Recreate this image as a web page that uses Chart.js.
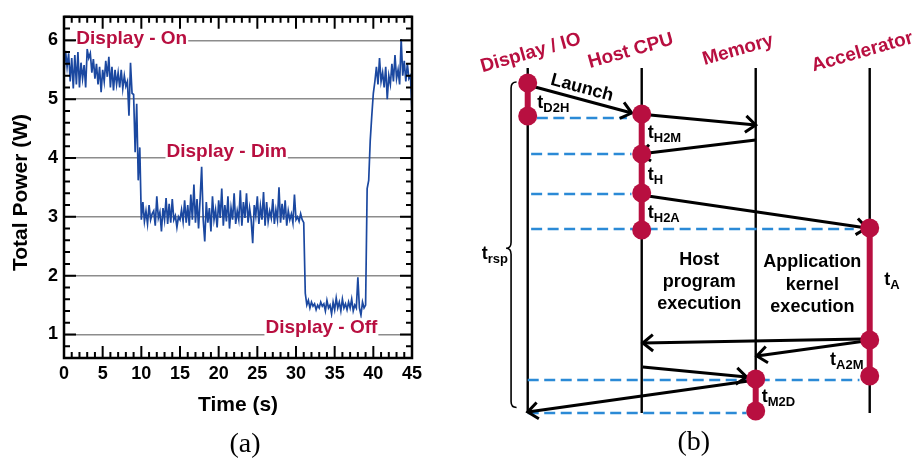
<!DOCTYPE html>
<html><head><meta charset="utf-8">
<script src="https://cdn.jsdelivr.net/npm/chart.js@4.4.1/dist/chart.umd.min.js"></script>
<style>
html,body{margin:0;padding:0;background:#fff;width:912px;height:461px;overflow:hidden}
#a{position:absolute;left:0;top:0}
#b{position:absolute;left:460px;top:0}
</style></head><body>
<canvas id="a" width="450" height="461"></canvas>
<canvas id="b" width="452" height="461"></canvas>
<script>
// ---------------- (a) data ----------------
const sampleInterval = 0.2; // seconds between samples
const powerW = [
  5.45,5.82,5.55,5.78,5.30,5.70,5.18,5.75,5.25,5.80, // 0-1.8
  5.20,5.62,5.35,5.58,5.20,5.85,5.70,5.78,5.45,5.68, // 2-3.8
  5.35,5.60,5.25,5.55,5.12,5.50,5.30,5.65,5.38,5.72, // 4-5.8
  5.20,5.55,5.15,5.50,5.25,5.45,5.20,5.50,5.18,5.40, // 6-7.8
  5.22,5.30,4.72,5.62,5.10,5.08,4.10,4.92,3.62,4.18, // 8-9.8
  2.95,3.25,2.92,3.10,2.88,3.20,2.95,3.05,3.10,2.85, // 10-11.8
  3.35,2.98,3.08,2.75,3.15,2.95,3.32,2.88,3.22,2.90, // 12-13.8
  3.30,2.95,3.02,2.82,3.00,2.95,3.12,2.92,3.28,2.90, // 14-15.8
  3.20,2.85,3.38,2.95,3.55,2.90,3.30,2.80,3.30,3.85, // 16-17.8
  2.95,2.58,3.25,2.90,3.15,2.75,3.35,2.95,3.12,2.82, // 18-19.8
  3.28,2.98,3.48,2.85,3.20,2.92,3.35,2.80,3.15,2.95, // 20-21.8
  3.40,2.88,3.10,2.95,3.45,2.85,3.25,2.98,3.40,2.90, // 22-23.8
  3.15,2.95,2.55,3.20,3.02,3.35,2.88,3.18,2.95,3.42, // 24-25.8
  2.85,3.25,2.92,3.10,2.98,3.30,2.88,3.12,2.95,3.50, // 26-27.8
  2.90,3.22,2.95,3.28,2.85,3.10,2.95,3.05,2.90,3.38, // 28-29.8
  2.95,3.00,2.92,3.05,2.95,2.90,1.70,1.50,1.58,1.45, // 30-31.8
  1.55,1.48,1.52,1.42,1.50,1.45,1.55,1.48,1.52,1.40, // 32-33.8
  1.58,1.45,1.50,1.35,1.55,1.42,1.62,1.45,1.55,1.40, // 34-35.8
  1.60,1.45,1.52,1.42,1.55,1.45,1.60,1.40,1.50,1.45, // 36-37.8
  1.97,1.45,1.33,1.55,1.45,1.50,3.48,3.62,4.30,4.72, // 38-39.8
  5.10,5.30,5.55,5.25,5.70,5.30,5.45,5.20,5.55,5.00, // 40-41.8
  5.40,5.25,5.60,5.30,5.75,5.35,5.50,5.25,6.02,5.40, // 42-43.8
  5.65,5.30,5.60,5.35,5.40,4.78                      // 44-45
];
const timeTicks = [0,5,10,15,20,25,30,35,40,45];
const powerTicks = [1,2,3,4,5,6];
const stateLabels = ['Display - On','Display - Dim','Display - Off'];
const stateLabelTime = [1.6, 13.25, 26.05];
const stateLabelPower = [5.93, 4.01, 1.03];

// ---------------- (b) data ----------------
const lanes = ['Display / IO','Host CPU','Memory','Accelerator'];
const lifelineStart = [68,68,68,68];
const lifelineEnd = [413,413,413,413];
const displayEvents = [83,116];
const hostEvents = [114,154,193,230];
const memoryEvents = [379,411];
const acceleratorEvents = [228,340,376];
const arrowFromLane = [0.064,1.073,2.0,1.055,2.93,2.93,1.01,2.0];
const arrowFromTime = [87,115,140,196,339,341.5,367,380];
const arrowToLane   = [0.912,2.0,0.985,2.974,1.01,2.01,1.92,0.0];
const arrowToTime   = [113,125,154,228,343,356,377,412];
const syncTime = [118,154,194,229,380,413];
const syncFromLane = [0.08,0.03,0.03,0.03,0.0,0.0];
const syncToLane = [0.87,0.91,0.91,2.86,2.91,1.92];
const timingSub = ['D2H','H2M','H','H2A','A','A2M','M2D','rsp'];

// ---------------- styles / layout ----------------
const FONT = '"Liberation Sans", Arial, Helvetica, sans-serif';
const SERIF = '"Liberation Serif", "Times New Roman", serif';
const RED = '#b80f40';
const BLUE_LINE = '#1b48a0';
const BLUE_DASH = '#2b8ad6';

const leftDecor = {
  id: 'leftDecor',
  afterDatasetsDraw(chart) {
    const {ctx, scales: {x, y}} = chart;
    ctx.save();
    ctx.font = `bold 19px ${FONT}`;
    ctx.textAlign = 'left';
    ctx.textBaseline = 'alphabetic';
    stateLabels.forEach((t, i) => {
      const px = x.getPixelForValue(stateLabelTime[i]);
      const py = y.getPixelForValue(stateLabelPower[i]);
      const w = ctx.measureText(t).width;
      ctx.fillStyle = '#fff';
      ctx.fillRect(px - 1, py - 14.5, w + 2, 19);
      ctx.fillStyle = RED;
      ctx.fillText(t, px, py);
    });
    ctx.restore();
  },
  afterDraw(chart) {
    const {ctx, chartArea: a, scales: {x, y}} = chart;
    ctx.save();
    ctx.strokeStyle = '#000';
    ctx.lineWidth = 2;
    ctx.beginPath();
    for (let s = 0; s <= 45; s++) {
      const px = x.getPixelForValue(s);
      const L = s % 5 === 0 ? 12 : 6;
      ctx.moveTo(px, a.bottom); ctx.lineTo(px, a.bottom - L);
      ctx.moveTo(px, a.top); ctx.lineTo(px, a.top + L);
    }
    for (let k = 3; k <= 32; k++) {
      const py = y.getPixelForValue(k / 5);
      const L = k % 5 === 0 ? 12 : 6;
      ctx.moveTo(a.left, py); ctx.lineTo(a.left + L, py);
      ctx.moveTo(a.right, py); ctx.lineTo(a.right - L, py);
    }
    ctx.stroke();
    ctx.lineWidth = 2.5;
    ctx.strokeRect(a.left, a.top, a.right - a.left, a.bottom - a.top);
    // axis titles
    ctx.fillStyle = '#000';
    ctx.font = `bold 21px ${FONT}`;
    ctx.textAlign = 'center';
    ctx.textBaseline = 'middle';
    ctx.fillText('Time (s)', (a.left + a.right) / 2, 405.5);
    ctx.save();
    ctx.translate(21, 192.5);
    ctx.rotate(-Math.PI / 2);
    ctx.fillText('Total Power (W)', 0, 0);
    ctx.restore();
    ctx.font = `28px ${SERIF}`;
    ctx.fillText('(a)', 245, 445);
    ctx.restore();
  }
};

new Chart(document.getElementById('a'), {
  type: 'line',
  data: {
    datasets: [{
      data: powerW.map((v, i) => ({x: i * sampleInterval, y: v})),
      borderColor: BLUE_LINE, borderWidth: 1.7, pointRadius: 0, tension: 0, fill: false
    }]
  },
  options: {
    responsive: false, animation: false, events: [],
    layout: {autoPadding: false, padding: {top: 12, right: 38, left: 0, bottom: 0}},
    plugins: {legend: {display: false}, tooltip: {enabled: false}},
    scales: {
      x: {
        type: 'linear', min: 0, max: 45,
        afterBuildTicks: s => { s.ticks = timeTicks.map(v => ({value: v})); },
        afterFit: s => { s.height = 103; },
        grid: {display: false, drawTicks: false},
        border: {display: false},
        ticks: {font: {family: FONT, size: 18, weight: 'bold'}, color: '#000', padding: 5, maxRotation: 0, autoSkip: false}
      },
      y: {
        type: 'linear', min: 0.6, max: 6.4,
        afterBuildTicks: s => { s.ticks = powerTicks.map(v => ({value: v})); },
        afterFit: s => { s.width = 64; },
        grid: {color: '#8c8c8c', lineWidth: 1.5, drawTicks: false},
        border: {display: false},
        ticks: {font: {family: FONT, size: 18, weight: 'bold'}, color: '#000', padding: 6, autoSkip: false}
      }
    }
  },
  plugins: [leftDecor]
});

// ---------------- (b) chart ----------------
const laneEvents = [displayEvents, hostEvents, memoryEvents, acceleratorEvents];
const headerPos = [[0.026, 53], [0.904, 51], [1.845, 50], [2.935, 52]];
const timingPos = [[0.084,108.3],[1.053,138.3],[1.053,180],[1.053,218.3],[3.128,285],[2.652,365],[2.053,401.7],[-0.404,259.3]];

const datasetsB = [];
lanes.forEach((_, i) => datasetsB.push({
  data: [{x: i, y: lifelineStart[i]}, {x: i, y: lifelineEnd[i]}],
  showLine: true, borderColor: '#000', borderWidth: 2.4, pointRadius: 0, order: 5
}));
syncTime.forEach((t, i) => datasetsB.push({
  data: [{x: syncFromLane[i], y: t}, {x: syncToLane[i], y: t}],
  showLine: true, borderColor: BLUE_DASH, borderWidth: 2.5, borderDash: [11, 5.5], pointRadius: 0, order: 4
}));
arrowFromLane.forEach((_, i) => datasetsB.push({
  data: [{x: arrowFromLane[i], y: arrowFromTime[i]}, {x: arrowToLane[i], y: arrowToTime[i]}],
  showLine: true, borderColor: '#000', borderWidth: 3, pointRadius: 0, order: 3, arrow: true
}));
laneEvents.forEach((ev, i) => datasetsB.push({
  data: [{x: i, y: ev[0]}, {x: i, y: ev[ev.length - 1]}],
  showLine: true, borderColor: RED, borderWidth: 6, pointRadius: 0, order: 2
}));
datasetsB.push({
  data: laneEvents.flatMap((ev, i) => ev.map(t => ({x: i, y: t}))),
  showLine: false, pointRadius: 9.5, pointBackgroundColor: RED, pointBorderWidth: 0, order: 1
});

const rightDecor = {
  id: 'rightDecor',
  afterDatasetDraw(chart, args) {
    const ds = chart.data.datasets[args.index];
    if (!ds.arrow) return;
    const {ctx, scales: {x, y}} = chart;
    const p0 = ds.data[0], p1 = ds.data[1];
    const x0 = x.getPixelForValue(p0.x), y0 = y.getPixelForValue(p0.y);
    const x1 = x.getPixelForValue(p1.x), y1 = y.getPixelForValue(p1.y);
    const ang = Math.atan2(y1 - y0, x1 - x0);
    const L = 13, h = 0.68;
    ctx.save();
    ctx.strokeStyle = '#000'; ctx.lineWidth = 3; ctx.lineJoin = 'miter'; ctx.lineCap = 'butt';
    ctx.beginPath();
    ctx.moveTo(x1 - L * Math.cos(ang - h), y1 - L * Math.sin(ang - h));
    ctx.lineTo(x1, y1);
    ctx.lineTo(x1 - L * Math.cos(ang + h), y1 - L * Math.sin(ang + h));
    ctx.stroke();
    ctx.restore();
  },
  afterDraw(chart) {
    const {ctx, scales: {x, y}} = chart;
    const X = v => x.getPixelForValue(v), Y = v => y.getPixelForValue(v);
    ctx.save();
    // lane headers
    ctx.font = `bold 19px ${FONT}`;
    ctx.fillStyle = RED;
    ctx.textAlign = 'center'; ctx.textBaseline = 'middle';
    lanes.forEach((t, i) => {
      ctx.save();
      ctx.translate(X(headerPos[i][0]), Y(headerPos[i][1]));
      ctx.rotate(-16 * Math.PI / 180);
      ctx.fillText(t, 0, 0);
      ctx.restore();
    });
    // Launch
    ctx.fillStyle = '#000';
    ctx.font = `bold 18px ${FONT}`;
    ctx.save();
    ctx.translate(X(0.476), Y(88));
    ctx.rotate(15 * Math.PI / 180);
    ctx.fillText('Launch', 0, 0);
    ctx.restore();
    // timing labels
    ctx.textAlign = 'left'; ctx.textBaseline = 'alphabetic';
    timingSub.forEach((s, i) => {
      const px = X(timingPos[i][0]), py = Y(timingPos[i][1]);
      ctx.font = `bold 18px ${FONT}`;
      ctx.fillText('t', px, py);
      const w = ctx.measureText('t').width;
      ctx.font = `bold 13px ${FONT}`;
      ctx.fillText(s, px + w, py + 4);
    });
    // execution texts
    ctx.font = `bold 18px ${FONT}`;
    ctx.textAlign = 'center';
    [['Host', 265], ['program', 287.3], ['execution', 309.3]].forEach(([t, b]) => ctx.fillText(t, X(1.505), Y(b)));
    [['Application', 266.7], ['kernel', 290], ['execution', 311.7]].forEach(([t, b]) => ctx.fillText(t, X(2.497), Y(b)));
    // brace for t_rsp
    const bx = X(-0.146), top = Y(82), mid = Y(248.3), bot = Y(407.5);
    ctx.strokeStyle = '#000'; ctx.lineWidth = 1.6;
    ctx.beginPath();
    ctx.moveTo(bx + 5.5, top);
    ctx.quadraticCurveTo(bx, top, bx, top + 6);
    ctx.lineTo(bx, mid - 6);
    ctx.quadraticCurveTo(bx, mid, bx - 5, mid);
    ctx.quadraticCurveTo(bx, mid, bx, mid + 6);
    ctx.lineTo(bx, bot - 6);
    ctx.quadraticCurveTo(bx, bot, bx + 5.5, bot);
    ctx.stroke();
    // caption
    ctx.font = `28px ${SERIF}`;
    ctx.textBaseline = 'middle';
    ctx.fillText('(b)', 233.8, 443);
    ctx.restore();
  }
};

new Chart(document.getElementById('b'), {
  type: 'scatter',
  data: {datasets: datasetsB},
  options: {
    responsive: false, animation: false, events: [],
    layout: {autoPadding: false, padding: 0},
    plugins: {legend: {display: false}, tooltip: {enabled: false}},
    scales: {
      x: {type: 'linear', display: false, min: -0.594, max: 3.371},
      y: {type: 'linear', display: false, min: 0, max: 461, reverse: true}
    }
  },
  plugins: [rightDecor]
});
</script>
</body></html>
